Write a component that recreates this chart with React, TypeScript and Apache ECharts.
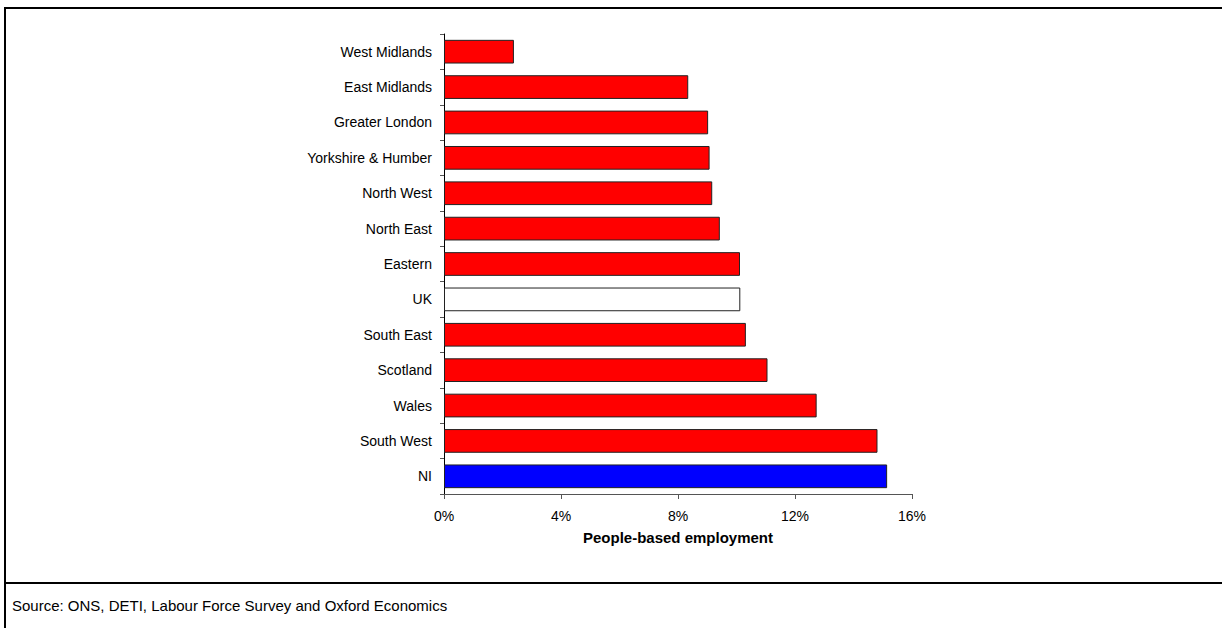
import React, { useEffect, useRef } from "react";
import * as echarts from "echarts";

const categories = [
  "West Midlands",
  "East Midlands",
  "Greater London",
  "Yorkshire & Humber",
  "North West",
  "North East",
  "Eastern",
  "UK",
  "South East",
  "Scotland",
  "Wales",
  "South West",
  "NI",
];
const values = [2.39, 8.35, 9.03, 9.08, 9.17, 9.43, 10.12, 10.13, 10.32, 11.06, 12.74, 14.82, 15.15];
const barColors = [
  "#FF0000", "#FF0000", "#FF0000", "#FF0000", "#FF0000", "#FF0000", "#FF0000",
  "#FFFFFF", "#FF0000", "#FF0000", "#FF0000", "#FF0000", "#0000FF",
];
const xTicks = [0, 4, 8, 12, 16];
const axisTitle = "People-based employment";
const sourceText = "Source: ONS, DETI, Labour Force Survey and Oxford Economics";

const FONT = "'Liberation Sans', Arial, sans-serif";

export default function App() {
  const ref = useRef<HTMLDivElement>(null);
  useEffect(() => {
    if (!ref.current) return;
    const chart = echarts.init(ref.current, null, { renderer: "svg" });
    chart.setOption({
      animation: false,
      backgroundColor: "#FFFFFF",
      textStyle: { fontFamily: FONT },
      grid: { left: 444, right: 310, top: 34, bottom: 134, containLabel: false },
      xAxis: {
        type: "value",
        min: xTicks[0],
        max: xTicks[xTicks.length - 1],
        interval: 4,
        name: axisTitle,
        nameLocation: "middle",
        nameGap: 36,
        nameTextStyle: { fontFamily: FONT, fontSize: 15, fontWeight: "bold", color: "#000" },
        axisLine: { show: true, lineStyle: { color: "#555", width: 1 } },
        axisTick: { show: true, length: 5, lineStyle: { color: "#555" } },
        axisLabel: {
          fontFamily: FONT,
          fontSize: 14,
          color: "#000",
          margin: 15,
          formatter: (v: number) => `${v}%`,
        },
        splitLine: { show: false },
      },
      yAxis: {
        type: "category",
        data: categories,
        inverse: true,
        axisLine: { show: true, lineStyle: { color: "#000", width: 1 } },
        axisTick: { show: true, length: 4, lineStyle: { color: "#555" } },
        axisLabel: { fontFamily: FONT, fontSize: 14, color: "#000", margin: 12 },
        splitLine: { show: false },
      },
      series: [
        {
          type: "bar",
          barCategoryGap: "33%",
          data: values.map((v, i) => ({
            value: v,
            itemStyle: { color: barColors[i], borderColor: "#222", borderWidth: 1 },
          })),
        },
      ],
      graphic: [
        {
          type: "rect",
          shape: { x: 5, y: 8, width: 1300, height: 700 },
          style: { fill: "none", stroke: "#000", lineWidth: 2 },
          silent: true,
        },
        {
          type: "line",
          shape: { x1: 5, y1: 583, x2: 1222, y2: 583 },
          style: { stroke: "#000", lineWidth: 2 },
          silent: true,
        },
        {
          type: "text",
          x: 12,
          y: 605,
          style: {
            text: sourceText,
            fontFamily: FONT,
            fontSize: 15,
            fill: "#000",
            textVerticalAlign: "middle",
            verticalAlign: "middle",
          },
          silent: true,
        },
      ],
    });
    return () => chart.dispose();
  }, []);
  return (
    <div
      ref={ref}
      style={{ position: "absolute", left: 0, top: 0, width: 1222, height: 628 }}
    />
  );
}
